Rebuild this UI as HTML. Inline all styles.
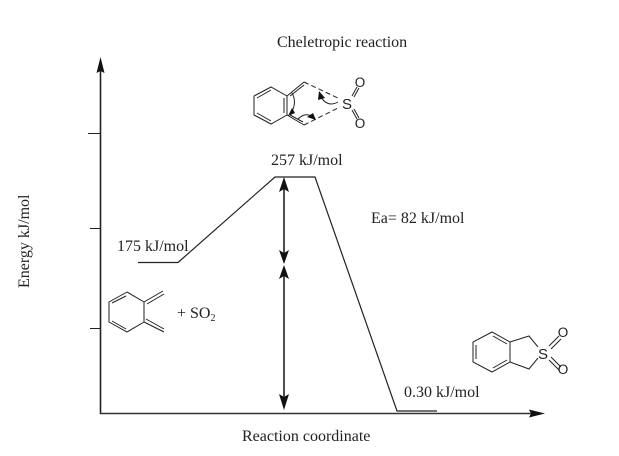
<!DOCTYPE html>
<html><head><meta charset="utf-8"><style>
html,body{margin:0;padding:0;background:#fff}
svg{display:block}
text{font-family:"Liberation Serif",serif;font-size:16px;fill:#222}
.s{font-family:"Liberation Sans",sans-serif;font-size:15px}
.o{font-family:"Liberation Sans",sans-serif;font-size:13.5px;text-anchor:middle}
</style></head><body>
<svg width="619" height="456" viewBox="0 0 619 456" xmlns="http://www.w3.org/2000/svg">
<rect width="619" height="456" fill="#fff"/>
<g fill="none" stroke="#222" stroke-width="1">
<path d="M100.5 414V66" stroke-width="1.6"/>
<path d="M100 413.5H534" stroke-width="1.6" stroke="#333"/>
<path d="M88 133.5H100M90 228.5H100M90 328.5H100"/>
<path d="M138 262.5H178L275 177H315L397 411H437" stroke-width="1.2"/>
<path d="M284 188V255M284 274V400" stroke-width="1.6"/>
<!-- TS -->
<path d="M271 87L254 96V115L271 124L287 115V96ZM257 98L271 90M257 113L271 121M284 113V98M287 96L304 82M287 115L304 125M290 96L304 85M290 115L303 122"/>
<path d="M304 82L340 99M304 125L340 107" stroke-dasharray="5 3"/>
<path d="M352 96L357 87M354 97L359 88M352 110L357 119M354 109L359 118"/>
<path d="M292 93C296 100 295 108 290 114M298 119C303 114 309 113 314 118M338 102C331 106 324 104 320 95"/>
<!-- diene -->
<path d="M127 292L109 302V322L127 332L144 322V302ZM112 303L126 296M112 321L126 329M144 302L163 291M147 304L164 294M144 322L164 332M146 319L164 329"/>
<!-- product -->
<path d="M492 332L473 342V362L492 372L510 362V342ZM476 345V359M493 336L507 344M493 368L507 360M510 342L529 336L538 347M510 362L529 369L538 358"/>
<path d="M549 346L559 336M551 349L561 339M549 360L559 370M551 357L561 367"/>
</g>
<g fill="#111">
<path d="M100.5 57L104.5 73L100.5 71L96.5 73Z"/>
<path d="M545 413.5L529 417.5L531 413.5L529 409.5Z"/>
<path d="M284 177L289 192L284 189L279 192ZM284 264L279 250L284 253L289 250ZM284 265L289 279L284 276L279 279ZM284 410L279 394L284 397L289 394Z"/>
<path d="M288 116L292 108L295 113ZM316 120L307 117L313 113ZM319 91L325 98L318 100Z"/>
</g>
<text class="s" x="342" y="109">S</text>
<text class="s" x="538" y="359">S</text>
<text class="o" x="360" y="87">O</text>
<text class="o" x="360" y="128">O</text>
<text class="o" x="563" y="337">O</text>
<text class="o" x="563" y="374">O</text>
<text x="277" y="47">Cheletropic reaction</text>
<text x="271" y="165">257 kJ/mol</text>
<text x="371" y="223">Ea= 82 kJ/mol</text>
<text x="117" y="251">175 kJ/mol</text>
<text x="177" y="318">+ SO<tspan font-size="10" dy="3">2</tspan></text>
<text x="404" y="397">0.30 kJ/mol</text>
<text x="242" y="441">Reaction coordinate</text>
<text transform="translate(29 288) rotate(-90)">Energy kJ/mol</text>
</svg>
</body></html>
